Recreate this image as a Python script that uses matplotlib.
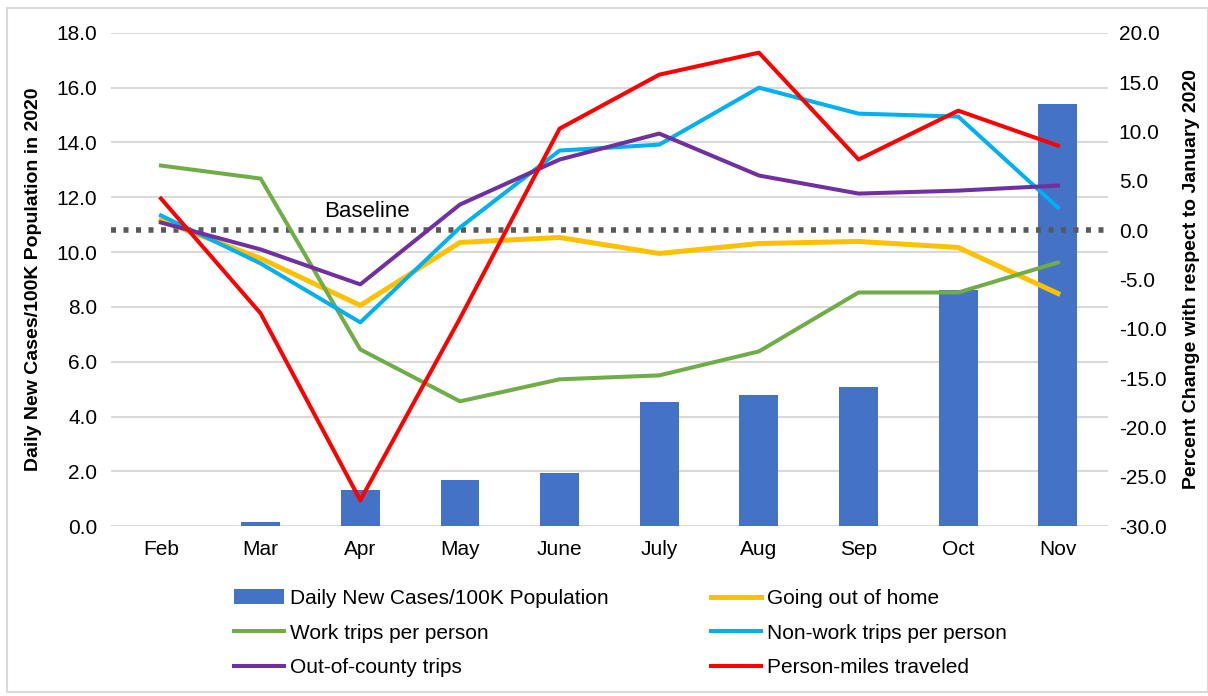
import matplotlib.pyplot as plt
import numpy as np
from matplotlib.patches import Rectangle

# -------------------------
# Data
# -------------------------
months = ["Feb", "Mar", "Apr", "May", "June", "July", "Aug", "Sep", "Oct", "Nov"]
daily_cases = [0.0, 0.17, 1.31, 1.68, 1.93, 4.52, 4.77, 5.07, 8.6, 15.41]

going_out = [0.97, -2.87, -7.63, -1.25, -0.75, -2.37, -1.36, -1.15, -1.76, -6.42]
work_trips = [6.54, 5.22, -12.09, -17.35, -15.12, -14.72, -12.29, -6.32, -6.32, -3.28]
nonwork_trips = [1.48, -3.38, -9.35, 0.26, 8.06, 8.66, 14.43, 11.8, 11.5, 2.29]
out_county = [0.77, -1.96, -5.5, 2.59, 7.15, 9.78, 5.53, 3.7, 4.0, 4.51]
person_miles = [3.2, -8.44, -27.37, -8.95, 10.28, 15.75, 17.98, 7.15, 12.1, 8.56]

plt.rcParams["font.family"] = ["Liberation Sans", "DejaVu Sans"]

fig = plt.figure(figsize=(12.08, 6.96), dpi=100)
ax = fig.add_axes([0.092, 0.244, 0.825, 0.709])
ax2 = ax.twinx()

x = np.arange(len(months))

# bars on the left axis
bars = ax.bar(x, daily_cases, width=0.39, color="#4472C4", zorder=2,
              label="Daily New Cases/100K Population")
ax.set_ylim(0, 18)
ax.set_yticks(np.arange(0, 18.1, 2))
ax.set_yticklabels([f"{v:.1f}" for v in np.arange(0, 18.1, 2)])
ax.set_xlim(-0.5, 9.5)
ax.set_xticks(x)
ax.set_xticklabels(months)
ax.grid(axis="y", color="#D9D9D9", linewidth=1.5, zorder=0)
ax.set_axisbelow(True)
ax.tick_params(axis="both", length=0, labelsize=15, pad=10)
ax.set_ylabel("Daily New Cases/100K Population in 2020", fontsize=14,
              fontweight="bold", labelpad=10)

# lines on the right axis
lines = []
lines.append(ax2.plot(x, going_out, color="#FFC000", lw=3.6, label="Going out of home")[0])
lines.append(ax2.plot(x, work_trips, color="#70AD47", lw=2.9, label="Work trips per person")[0])
lines.append(ax2.plot(x, nonwork_trips, color="#00B0F0", lw=2.9, label="Non-work trips per person")[0])
lines.append(ax2.plot(x, out_county, color="#7030A0", lw=2.9, label="Out-of-county trips")[0])
lines.append(ax2.plot(x, person_miles, color="#FF0000", lw=2.9, label="Person-miles traveled")[0])

ax2.axhline(0, color="#595959", lw=4, linestyle=(0, (0.9, 1.35)), zorder=1)
ax2.text(2.07, 0.8, "Baseline", fontsize=16, ha="center", va="bottom")

ax2.set_ylim(-30, 20)
ax2.set_yticks(np.arange(-30, 20.1, 5))
ax2.set_yticklabels([f"{v:.1f}" for v in np.arange(-30, 20.1, 5)])
ax2.tick_params(axis="y", length=0, labelsize=15, pad=8)
ax2.set_ylabel("Percent Change with respect to January 2020", fontsize=14,
               fontweight="bold", labelpad=12)

for a in (ax, ax2):
    for s in a.spines.values():
        s.set_visible(False)

# legend in two columns, Excel-like row order
handles = [bars, lines[1], lines[3], lines[0], lines[2], lines[4]]
fig.legend(handles, [h.get_label() for h in handles], ncol=2, frameon=False,
           loc="lower left", bbox_to_anchor=(0.178, 0.0), fontsize=15,
           handlelength=2.4, columnspacing=4.9, labelspacing=0.75, handletextpad=0.3)

# light frame around the whole chart
fig.patches.append(Rectangle((0.006, 0.006), 0.994, 0.983, transform=fig.transFigure,
                             fill=False, edgecolor="#D9D9D9", lw=1.5))

fig.savefig("out.png", dpi=100)
